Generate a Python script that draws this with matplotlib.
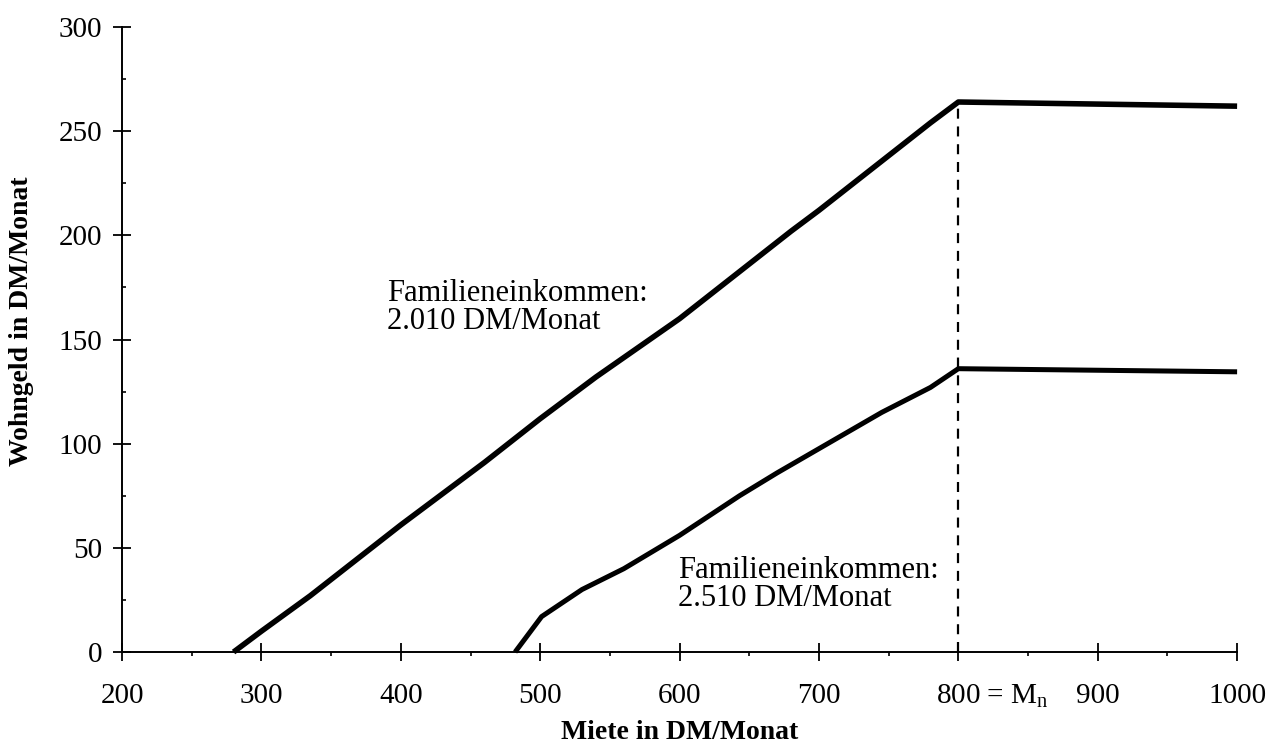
import matplotlib
matplotlib.use('Agg')
import matplotlib.pyplot as plt
import matplotlib.transforms as mtransforms
from matplotlib.ticker import MultipleLocator

plt.rcParams['font.family'] = ['Liberation Serif', 'DejaVu Serif']
plt.rcParams['mathtext.fontset'] = 'custom'
plt.rcParams['mathtext.rm'] = 'Liberation Serif'
plt.rcParams['mathtext.it'] = 'Liberation Serif:italic'

# Wohngeld bei Familieneinkommen 2.010 DM/Monat
miete_2010 = [280, 300, 335, 400, 460, 500, 540, 600, 680, 700, 780, 800, 1000]
wohngeld_2010 = [0, 10, 27, 61, 91, 112, 132, 160, 202, 212, 254, 264, 262]

# Wohngeld bei Familieneinkommen 2.510 DM/Monat
miete_2510 = [482, 501, 530, 560, 600, 643, 670, 745, 780, 800, 1000]
wohngeld_2510 = [0, 17, 30, 40, 56, 75, 86, 115, 127, 136, 134.5]

m_n = 800
x_ticks = [200, 300, 400, 500, 600, 700, 800, 900, 1000]
x_labels = ['200', '300', '400', '500', '600', '700', '800 = M$_\\mathrm{n}$', '900', '1000']
y_ticks = [0, 50, 100, 150, 200, 250, 300]

fig = plt.figure(figsize=(12.78, 7.48), dpi=100)
ax = fig.add_axes([0.0955, 0.1283, 0.8725, 0.8356])

ax.plot(miete_2010, wohngeld_2010, color='black', lw=4, clip_on=False, solid_capstyle='butt')
ax.plot(miete_2510, wohngeld_2510, color='black', lw=3.6, clip_on=False, solid_capstyle='butt')
ax.plot([m_n, m_n], [0, wohngeld_2010[-2]], color='black', lw=1.6, ls=(0, (4.5, 3.5)))

ax.text(390, 179, 'Familieneinkommen:\n2.010 DM/Monat', fontsize=22, va='top', ha='left', linespacing=0.95)
ax.text(599, 46, 'Familieneinkommen:\n2.510 DM/Monat', fontsize=22, va='top', ha='left', linespacing=0.95)

ax.set_xlim(200, 1000)
ax.set_ylim(0, 300)
ax.spines['top'].set_visible(False)
ax.spines['right'].set_visible(False)
ax.spines['left'].set_linewidth(1.4)
ax.spines['bottom'].set_linewidth(1.4)

ax.set_xticks(x_ticks)
ax.set_xticklabels(x_labels)
ax.set_yticks(y_ticks)
ax.xaxis.set_minor_locator(MultipleLocator(50))
ax.yaxis.set_minor_locator(MultipleLocator(25))

ax.tick_params(axis='both', which='major', direction='inout', length=13, width=1.3, labelsize=21)
ax.tick_params(axis='x', which='major', pad=16)
ax.tick_params(axis='y', which='major', pad=8)
ax.tick_params(axis='x', which='minor', direction='out', length=3, width=1.2)
ax.tick_params(axis='y', which='minor', direction='in', length=3, width=1.2)

# "800 = Mn": die 800 bleibt unter dem Strich, der Rest läuft nach rechts
lbl = ax.get_xticklabels()[6]
lbl.set_horizontalalignment('left')
lbl.set_transform(lbl.get_transform() + mtransforms.ScaledTranslation(-15.75 / 72, 0, fig.dpi_scale_trans))

ax.set_xlabel('Miete in DM/Monat', fontsize=20, fontweight='bold', va='bottom')
ax.set_ylabel('Wohngeld in DM/Monat', fontsize=20, fontweight='bold')
ax.xaxis.set_label_coords(0.5, -0.148)
ax.yaxis.set_label_coords(-0.079, 0.53)

fig.savefig('out.png', dpi=100)
